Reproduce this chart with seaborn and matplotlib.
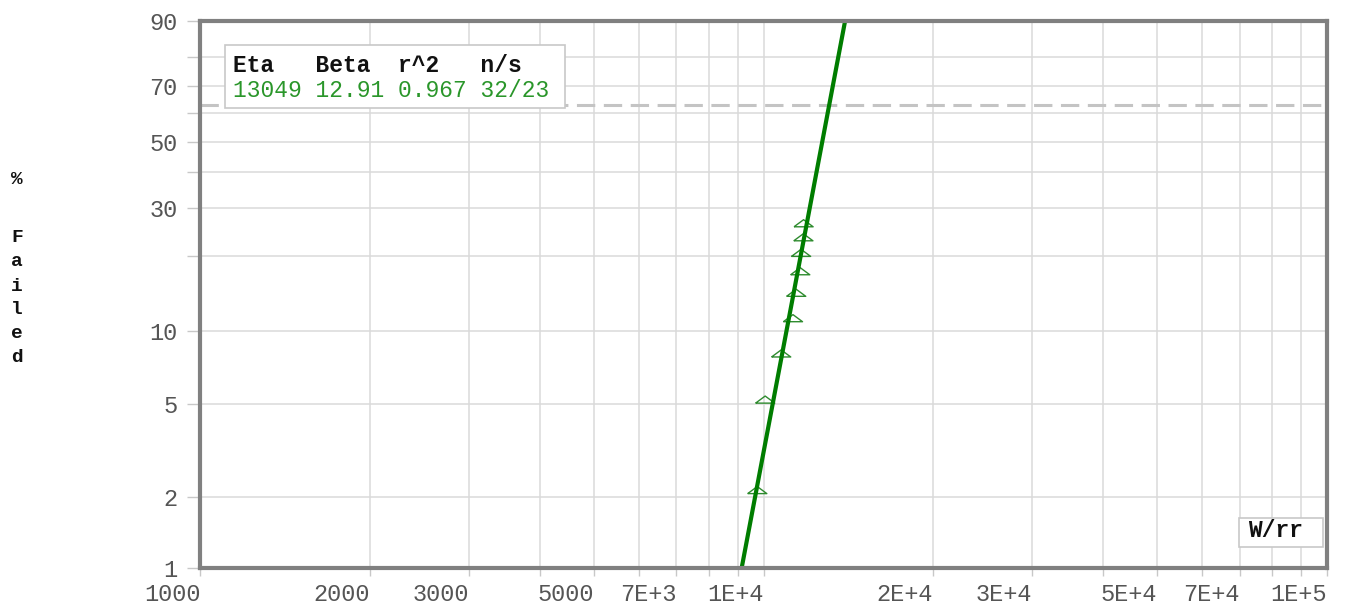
import numpy as np
import seaborn as sns
import matplotlib.pyplot as plt
from matplotlib.patches import Rectangle
from matplotlib.ticker import FixedLocator, FixedFormatter, NullFormatter

# failure points (time / % failed)
fail_time = [9740, 10060, 10740, 11270, 11420, 11610, 11650, 11760, 11770]
fail_pct = [2.15, 5.2, 8.1, 11.3, 14.3, 17.4, 20.5, 23.5, 26.5]

# end points of the fitted Weibull line
fit_time = [9140, 13950]
fit_pct = [1, 90]

x_ticks = [1000, 2000, 3000, 5000, 7000, 1e4, 2e4, 3e4, 5e4, 7e4, 1e5]
x_labels = ["1000", "2000", "3000", "5000", "7E+3", "1E+4",
            "2E+4", "3E+4", "5E+4", "7E+4", "1E+5"]
y_ticks = [1, 2, 5, 10, 30, 50, 70, 90]
y_minor = [20, 40, 60, 80]
char_life = 63.2

header = "Eta   Beta  r^2   n/s"
values = "13049 12.91 0.967 32/23"
method = "W/rr"

GREEN = "#007d00"
PT_GREEN = "#2e8b2e"
TXT_GREEN = "#2a962a"
GRID = "#dadada"
FRAME = "#808080"


def weib_fwd(p):
    p = np.clip(np.asarray(p, dtype=float), 1e-6, 100 - 1e-6)
    return np.log(-np.log(1 - p / 100.0))


def weib_inv(w):
    return 100.0 * (1 - np.exp(-np.exp(w)))


sns.set_style("white")
plt.rcParams["font.family"] = ["Liberation Mono", "DejaVu Sans Mono"]

fig = plt.figure(figsize=(13.48, 6.06), dpi=100)
ax = fig.add_axes([0.1487, 0.0632, 0.8357, 0.9026])

ax.set_xscale("log")
ax.set_yscale("function", functions=(weib_fwd, weib_inv))
ax.set_xlim(1000, 1e5)
ax.set_ylim(1, 90)

# grid / ticks
x_minor = [m * 10 ** e for e in (3, 4) for m in range(2, 10)
           if m * 10 ** e not in x_ticks]
ax.xaxis.set_major_locator(FixedLocator(x_ticks))
ax.xaxis.set_major_formatter(FixedFormatter(x_labels))
ax.xaxis.set_minor_locator(FixedLocator(x_minor))
ax.xaxis.set_minor_formatter(NullFormatter())
ax.yaxis.set_major_locator(FixedLocator(y_ticks))
ax.yaxis.set_major_formatter(FixedFormatter([str(v) for v in y_ticks]))
ax.yaxis.set_minor_locator(FixedLocator(y_minor))
ax.yaxis.set_minor_formatter(NullFormatter())
ax.grid(True, which="both", color=GRID, lw=1.1, zorder=0)

ax.tick_params(axis="x", which="both", direction="out", length=6, width=1,
               color="#c8c8c8", labelsize=17, labelcolor="#555555", pad=5,
               bottom=True)
ax.tick_params(axis="y", which="both", direction="out", length=9.5, width=1,
               color="#c8c8c8", labelsize=17, labelcolor="#555555", pad=7,
               left=True)
for lab in ax.get_xticklabels():
    lab.set_horizontalalignment("right")

for sp in ax.spines.values():
    sp.set_color(FRAME)
    sp.set_linewidth(3)
    sp.set_zorder(7)

# characteristic life line
ax.axhline(char_life, color="#c4c4c4", lw=2.2, dashes=(6, 2.8), zorder=1)

tri = [(-1, -0.37), (0, 0.37), (1, -0.37), (-1, -0.37)]
sns.scatterplot(x=fail_time, y=fail_pct, marker=tri, s=190,
                facecolor="none", edgecolor=PT_GREEN, linewidth=1,
                ax=ax, zorder=3)
sns.lineplot(x=fit_time, y=fit_pct, color=GREEN, lw=3, ax=ax, zorder=4)

ax.set_xlabel("")
ax.set_ylabel("")

# fit results box
ax.add_patch(Rectangle((0.0218, 0.8404), 0.3018, 0.1152, transform=ax.transAxes,
                       fc="white", ec="#c8c8c8", lw=1.2, zorder=5))
ax.text(0.0289, 0.919, header, transform=ax.transAxes, fontsize=16.5,
        fontweight="bold", color="#111111", va="center", zorder=6)
ax.text(0.0289, 0.8733, values, transform=ax.transAxes, fontsize=16.5,
        color=TXT_GREEN, va="center", zorder=6)

# method box
ax.add_patch(Rectangle((0.9222, 0.0384), 0.074, 0.053, transform=ax.transAxes,
                       fc="white", ec="#c8c8c8", lw=1.2, zorder=5))
ax.text(0.9301, 0.0689, method, transform=ax.transAxes, fontsize=16.5,
        fontweight="bold", color="#111111", va="center", zorder=6)

# vertical y label
for ch, ypx in zip("%Failed", [180, 238, 262, 286, 310, 334, 358]):
    fig.text(17 / 1348, 1 - ypx / 606, ch, fontsize=14, fontweight="bold",
             ha="center", va="center", color="#111111")

fig.savefig("out.png", dpi=100)
